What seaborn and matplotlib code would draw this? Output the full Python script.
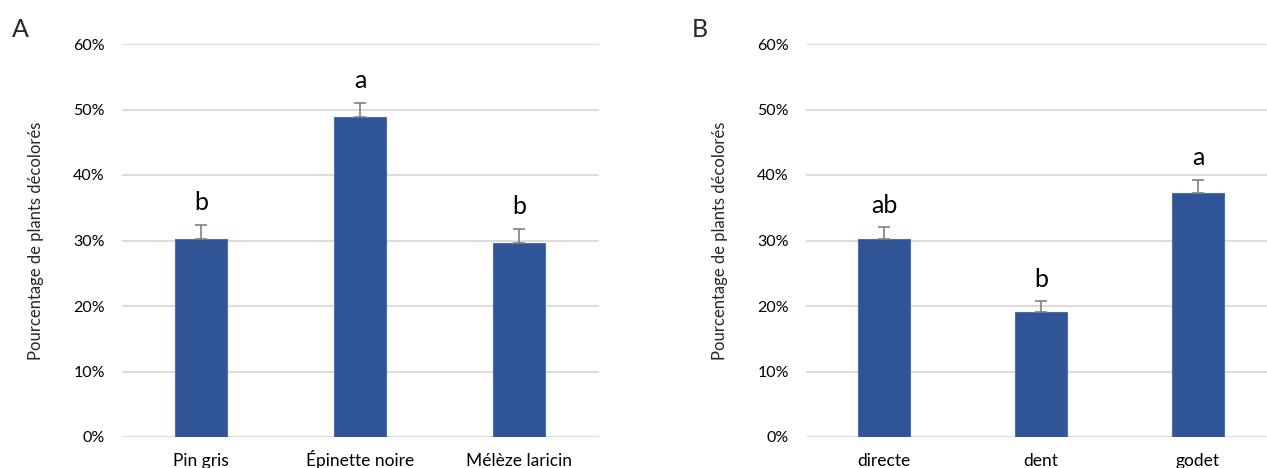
import matplotlib
matplotlib.use("Agg")
import matplotlib.pyplot as plt
import seaborn as sns
import pandas as pd
from matplotlib.ticker import PercentFormatter

# Panel A: species
species = ["Pin gris", "Épinette noire", "Mélèze laricin"]
species_pct = [0.302, 0.489, 0.296]
species_err = [0.022, 0.021, 0.022]
species_letters = ["b", "a", "b"]

# Panel B: planting method
method = ["directe", "dent", "godet"]
method_pct = [0.302, 0.191, 0.373]
method_err = [0.018, 0.016, 0.020]
method_letters = ["ab", "b", "a"]

yticks = [0.0, 0.1, 0.2, 0.3, 0.4, 0.5, 0.6]
ylabel = "Pourcentage de plants décolorés"

BAR = "#2F5597"
GRID = "#D9D9D9"
ERR = "#7F7F7F"

sns.set_theme(style="white")
plt.rcParams["font.family"] = ["Lato", "DejaVu Sans"]

fig = plt.figure(figsize=(12.67, 4.68), dpi=100)
W, H = 1267, 468
bottom = (H - 437) / H
height = 393 / H
axA = fig.add_axes([121.5 / W, bottom, 477 / W, height])
axB = fig.add_axes([805.5 / W, bottom, 471 / W, height])


def panel(ax, cats, vals, errs, letters):
    df = pd.DataFrame({"cat": cats, "pct": vals})
    sns.barplot(data=df, x="cat", y="pct", order=cats, color=BAR,
                saturation=1, width=0.33, errorbar=None, ax=ax,
                edgecolor="#4A6FAF", linewidth=0.8, zorder=3)
    xs = list(range(len(cats)))
    ax.errorbar(xs, vals, yerr=[[0] * len(vals), errs], fmt="none",
                ecolor=ERR, elinewidth=1.2, capsize=4, capthick=1.2, zorder=4)
    for x, v, e, lab in zip(xs, vals, errs, letters):
        ax.text(x, v + e + 0.016, lab, ha="center", va="bottom",
                fontsize=18, color="black")
    ax.set_ylim(0, 0.6)
    ax.set_xlim(-0.5, len(cats) - 0.5)
    ax.set_yticks(yticks)
    ax.yaxis.set_major_formatter(PercentFormatter(1.0, decimals=0))
    ax.grid(axis="y", color=GRID, linewidth=1.3, zorder=0)
    ax.grid(axis="x", visible=False)
    ax.set_axisbelow(True)
    for s in ax.spines.values():
        s.set_visible(False)
    ax.tick_params(axis="both", length=0, colors="black")
    ax.tick_params(axis="y", pad=12, labelsize=11.5)
    ax.tick_params(axis="x", pad=21, labelsize=12.5)
    ax.set_xticks(xs)
    ax.set_xticklabels(cats, va="baseline")
    ax.set_xlabel("")
    ax.set_ylabel(ylabel, fontsize=12, labelpad=21)


panel(axA, species, species_pct, species_err, species_letters)
panel(axB, method, method_pct, method_err, method_letters)

fig.text(12 / W, 1 - 37 / H, "A", fontsize=18, ha="left", va="baseline")
fig.text(692 / W, 1 - 37 / H, "B", fontsize=18, ha="left", va="baseline")

fig.savefig("out.png", dpi=100)
